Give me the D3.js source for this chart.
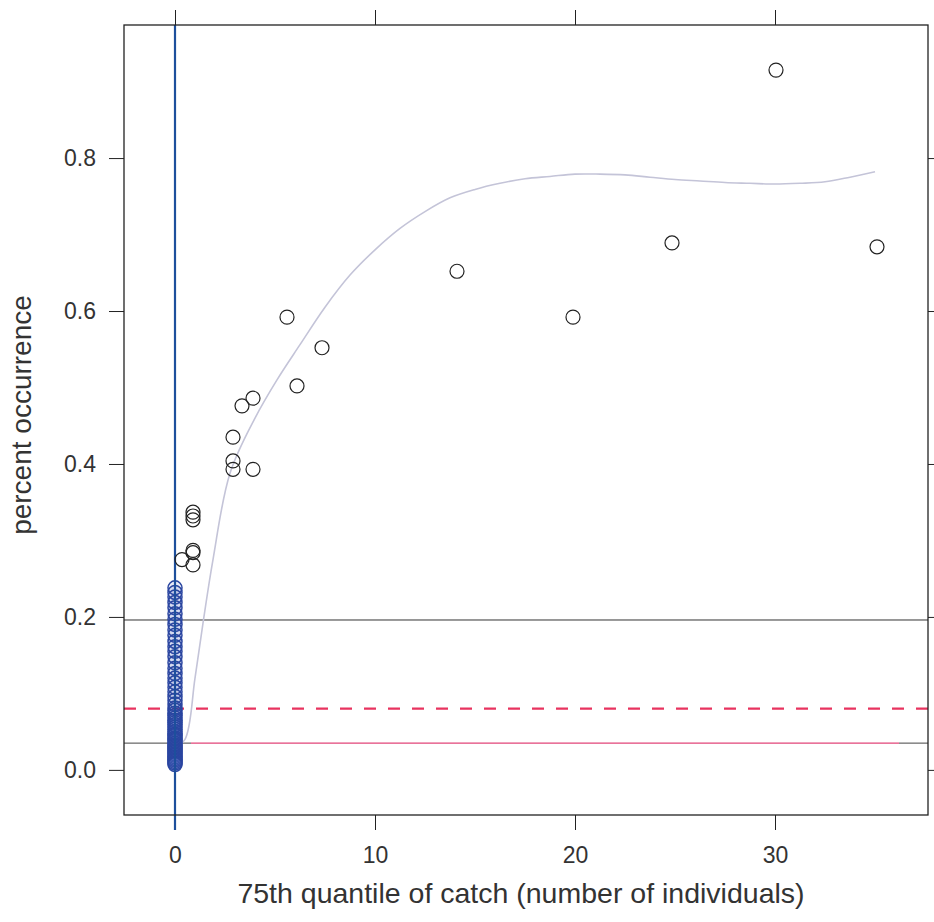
<!DOCTYPE html>
<html>
<head>
<meta charset="utf-8">
<script src="https://cdn.jsdelivr.net/npm/d3@7/dist/d3.min.js"></script>
<style>
  html, body { margin: 0; padding: 0; background: #ffffff; }
  svg { display: block; font-family: "Liberation Sans", Arial, Helvetica, sans-serif; }
</style>
</head>
<body>
<svg id="chart" width="934" height="922"></svg>
<script>
// Sites with a positive 75th quantile of catch
const catchQ75 = [30.05, 24.85, 35.1, 14.1, 19.9, 5.6, 7.35, 6.1, 3.9, 3.35, 2.9, 2.9, 2.9, 3.9,
                  0.9, 0.9, 0.9, 0.9, 0.9, 0.9, 0.35];
const occurrence = [0.915, 0.689, 0.684, 0.652, 0.592, 0.592, 0.552, 0.502, 0.486, 0.476, 0.435, 0.404, 0.393, 0.393,
                    0.337, 0.332, 0.327, 0.287, 0.284, 0.268, 0.275];

// Sites whose 75th quantile of catch is zero
const zeroCatchOccurrence = [0.238, 0.232, 0.226, 0.219, 0.212, 0.204, 0.197, 0.19, 0.183, 0.176, 0.168, 0.161,
                             0.155, 0.148, 0.14, 0.133, 0.126, 0.12, 0.114, 0.108, 0.102, 0.096, 0.091, 0.086,
                             0.081, 0.078, 0.074, 0.071, 0.068, 0.065, 0.062, 0.059, 0.056, 0.053, 0.05, 0.047,
                             0.045, 0.042, 0.04, 0.038, 0.035, 0.033, 0.031, 0.029, 0.027, 0.025, 0.023, 0.021,
                             0.019, 0.017, 0.015, 0.013, 0.011, 0.009, 0.007];

// Smoothed trend
const smoothX = [0, 0.5, 1.0, 1.4, 1.9, 2.75, 4.0, 5.1, 6.25, 7.5, 8.75, 10, 11.25, 12.5, 13.75, 15, 16.25, 17.5,
                 18.75, 20, 21.25, 22.5, 23.75, 25, 26.25, 27.5, 28.75, 30, 31.25, 32.5, 33.75, 35];
const smoothY = [0.03, 0.04, 0.12, 0.192, 0.275, 0.388, 0.46, 0.51, 0.556, 0.605, 0.647, 0.68, 0.708, 0.73,
                 0.748, 0.759, 0.767, 0.773, 0.776, 0.779, 0.779, 0.778, 0.775, 0.772, 0.77, 0.768, 0.767,
                 0.766, 0.767, 0.769, 0.775, 0.782];

// Reference levels
const blackLevel = 0.196;
const dashedLevel = 0.08;
const solidLevel = 0.035;
const solidStartX = 0.8;
const solidEndX = 36.2;
const verticalAt = 0;

const xTicks = [0, 10, 20, 30];
const yTicks = [0, 0.2, 0.4, 0.6, 0.8];
const xTitle = "75th quantile of catch (number of individuals)";
const yTitle = "percent occurrence";

const svg = d3.select("#chart");
const panel = { left: 124, right: 928, top: 25, bottom: 815 };

const x = d3.scaleLinear().domain([-2.55, 37.65]).range([panel.left, panel.right]);
const y = d3.scaleLinear().domain([-0.059, 0.974]).range([panel.bottom, panel.top]);

const fmtY = d3.format(".1f");

// Axes on all four sides, lattice style
const axColor = "#222";
svg.append("g").attr("transform", `translate(0,${panel.bottom})`)
  .call(d3.axisBottom(x).tickValues(xTicks).tickSize(15).tickPadding(17).tickFormat(d3.format("d")))
  .call(g => g.select(".domain").remove());
svg.append("g").attr("transform", `translate(0,${panel.top})`)
  .call(d3.axisTop(x).tickValues(xTicks).tickSize(15).tickFormat(""))
  .call(g => g.select(".domain").remove());
svg.append("g").attr("transform", `translate(${panel.left},0)`)
  .call(d3.axisLeft(y).tickValues(yTicks).tickSize(15).tickPadding(13).tickFormat(fmtY))
  .call(g => g.select(".domain").remove());
svg.append("g").attr("transform", `translate(${panel.right},0)`)
  .call(d3.axisRight(y).tickValues(yTicks).tickSize(7).tickFormat(""))
  .call(g => g.select(".domain").remove());

svg.selectAll(".tick line").attr("stroke", axColor).attr("stroke-width", 1);
svg.selectAll(".tick text").attr("fill", "#333").style("font-size", "23px");

// Horizontal reference lines
svg.append("line")
  .attr("x1", panel.left).attr("x2", panel.right)
  .attr("y1", y(blackLevel)).attr("y2", y(blackLevel))
  .attr("stroke", "#333").attr("stroke-width", 1);
svg.append("line")
  .attr("x1", panel.left).attr("x2", panel.right)
  .attr("y1", y(dashedLevel)).attr("y2", y(dashedLevel))
  .attr("stroke", "#e8335f").attr("stroke-width", 2.2)
  .attr("stroke-dasharray", "12,12");
svg.append("line")
  .attr("x1", panel.left).attr("x2", x(solidStartX))
  .attr("y1", y(solidLevel)).attr("y2", y(solidLevel))
  .attr("stroke", "#444").attr("stroke-width", 1);
svg.append("line")
  .attr("x1", x(solidEndX)).attr("x2", panel.right)
  .attr("y1", y(solidLevel)).attr("y2", y(solidLevel))
  .attr("stroke", "#444").attr("stroke-width", 1);
svg.append("line")
  .attr("x1", x(solidStartX)).attr("x2", x(solidEndX))
  .attr("y1", y(solidLevel)).attr("y2", y(solidLevel))
  .attr("stroke", "#e24478").attr("stroke-width", 1.4);

// Smoothed trend line
const line = d3.line().curve(d3.curveCatmullRom.alpha(0.5))
  .x((d, i) => x(smoothX[i])).y(d => y(d));
svg.append("path")
  .datum(smoothY)
  .attr("d", line)
  .attr("fill", "none")
  .attr("stroke", "#c4c4d8")
  .attr("stroke-width", 1.6);

// Zero-catch column
svg.append("g").selectAll("circle")
  .data(zeroCatchOccurrence)
  .join("circle")
  .attr("cx", x(0)).attr("cy", d => y(d)).attr("r", 7)
  .attr("fill", "rgba(70,100,190,0.12)").attr("stroke", "#2a45a0").attr("stroke-width", 1.5);

// Vertical reference line at zero
svg.append("line")
  .attr("x1", x(verticalAt)).attr("x2", x(verticalAt))
  .attr("y1", panel.top).attr("y2", panel.bottom + 15)
  .attr("stroke", "#1d4f9c").attr("stroke-width", 2.2);

// Positive-catch sites
svg.append("g").selectAll("circle")
  .data(catchQ75)
  .join("circle")
  .attr("cx", d => x(d)).attr("cy", (d, i) => y(occurrence[i])).attr("r", 7)
  .attr("fill", "none").attr("stroke", "#222").attr("stroke-width", 1.2);

// Panel border
svg.append("rect")
  .attr("x", panel.left).attr("y", panel.top)
  .attr("width", panel.right - panel.left).attr("height", panel.bottom - panel.top)
  .attr("fill", "none").attr("stroke", "#222").attr("stroke-width", 1.3);

// Axis titles
svg.append("text")
  .attr("x", 521).attr("y", 903)
  .attr("text-anchor", "middle")
  .attr("fill", "#333")
  .style("font-size", "28.5px")
  .text(xTitle);
svg.append("text")
  .attr("transform", "translate(31,415) rotate(-90)")
  .attr("text-anchor", "middle")
  .attr("fill", "#333")
  .style("font-size", "28px")
  .text(yTitle);
</script>
</body>
</html>
